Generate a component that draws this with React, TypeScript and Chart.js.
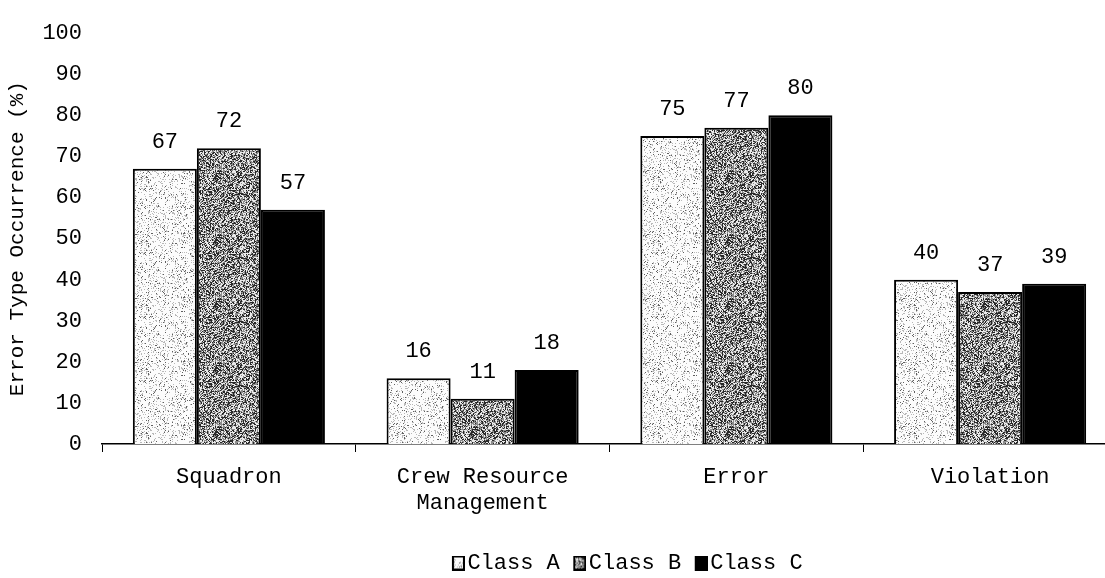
import React, { useEffect, useRef } from 'react';
import { Chart, registerables } from 'chart.js';

Chart.register(...registerables);

// Categories on the x axis (multi-line labels as arrays)
const categories: (string | string[])[] = ['Squadron', ['Crew Resource', 'Management'], 'Error', 'Violation'];
const seriesNames = ['Class A', 'Class B', 'Class C'];
const classA = [67, 16, 75, 40];
const classB = [72, 11, 77, 37];
const classC = [57, 18, 80, 39];
const yMin = 0;
const yMax = 100;
const yStep = 10;
const yTitle = 'Error Type Occurrence (%)';

const FONT = "'Liberation Mono', 'Courier New', monospace";

// Deterministic stipple texture: each pixel takes a grey level chosen from cumulative thresholds.
function stippleTile(size: number, seed: number, levels: [number, number][]): HTMLCanvasElement {
  const c = document.createElement('canvas');
  c.width = size;
  c.height = size;
  const ctx = c.getContext('2d')!;
  const img = ctx.createImageData(size, size);
  let s = seed >>> 0;
  const next = () => {
    s = (Math.imul(s, 1664525) + 1013904223) >>> 0;
    return s / 4294967296;
  };
  for (let i = 0; i < size * size; i++) {
    const r = next();
    let g = levels[levels.length - 1][1];
    for (const [t, v] of levels) {
      if (r < t) { g = v; break; }
    }
    img.data[i * 4] = g;
    img.data[i * 4 + 1] = g;
    img.data[i * 4 + 2] = g;
    img.data[i * 4 + 3] = 255;
  }
  ctx.putImageData(img, 0, 0);
  return c;
}

// Small legend swatch: patterned box with black frame, drawn on the right of a wider transparent image
function swatch(fill: CanvasPattern | string): HTMLCanvasElement {
  const c = document.createElement('canvas');
  c.width = 18;
  c.height = 15;
  const ctx = c.getContext('2d')!;
  ctx.fillStyle = fill as any;
  ctx.fillRect(5, 0, 13, 15);
  ctx.strokeStyle = '#000';
  ctx.lineWidth = 2;
  ctx.strokeRect(6, 1, 11, 13);
  return c;
}

const valueLabels = {
  id: 'valueLabels',
  afterDatasetsDraw(chart: any) {
    const ctx = chart.ctx;
    ctx.save();
    ctx.font = `22px ${FONT}`;
    ctx.fillStyle = '#000';
    ctx.textAlign = 'center';
    ctx.textBaseline = 'middle';
    chart.data.datasets.forEach((ds: any, i: number) => {
      chart.getDatasetMeta(i).data.forEach((el: any, j: number) => {
        ctx.fillText(String(ds.data[j]), el.x, el.y - 27);
      });
    });
    ctx.restore();
  },
};

export default function App() {
  const ref = useRef<HTMLCanvasElement>(null);

  useEffect(() => {
    const canvas = ref.current!;
    const ctx = canvas.getContext('2d')!;

    const tileA = stippleTile(64, 12345, [[0.05, 95], [0.2, 185], [1, 252]]);
    const tileB = stippleTile(64, 67890, [[0.33, 40], [0.66, 140], [1, 235]]);
    const patA = ctx.createPattern(tileA, 'repeat')!;
    const patB = ctx.createPattern(tileB, 'repeat')!;
    const fills: (CanvasPattern | string)[] = [patA, patB, '#000'];
    const swatches = fills.map(swatch);

    const series = [classA, classB, classC];

    const chart = new Chart(canvas, {
      type: 'bar',
      data: {
        labels: categories as any,
        datasets: series.map((d, i) => ({
          label: seriesNames[i],
          data: d,
          backgroundColor: fills[i] as any,
          borderColor: '#000',
          borderWidth: 2,
          borderSkipped: 'bottom',
          categoryPercentage: 0.757,
          barPercentage: 1.0,
        })),
      },
      options: {
        responsive: false,
        animation: false,
        layout: { padding: { top: 22, left: 0, right: 0, bottom: 0 } },
        plugins: {
          tooltip: { enabled: false },
          legend: {
            position: 'bottom',
            labels: {
              usePointStyle: true,
              boxWidth: 1,
              padding: 17,
              color: '#000',
              font: { family: FONT, size: 22 },
              generateLabels: () =>
                seriesNames.map((name, i) => ({
                  text: name,
                  pointStyle: swatches[i] as any,
                  fillStyle: '#000',
                  strokeStyle: '#000',
                  lineWidth: 0,
                  hidden: false,
                  datasetIndex: i,
                  fontColor: '#000',
                })),
            },
          },
        },
        scales: {
          x: {
            grid: {
              display: true,
              drawOnChartArea: false,
              drawTicks: true,
              tickLength: 8,
              color: '#000',
              lineWidth: 1,
            },
            border: { display: true, color: '#000', width: 1.5 },
            ticks: {
              color: '#000',
              font: { family: FONT, size: 22 },
              padding: 12,
              autoSkip: false,
              maxRotation: 0,
            },
            afterFit: (s: any) => {
              s.height = 91;
            },
          },
          y: {
            min: yMin,
            max: yMax,
            grid: { display: false, drawTicks: false },
            border: { display: false },
            ticks: {
              stepSize: yStep,
              color: '#000',
              font: { family: FONT, size: 22 },
              padding: 20,
            },
            title: {
              display: true,
              text: yTitle,
              color: '#000',
              font: { family: FONT, size: 21 },
              padding: { top: 5, bottom: 0 },
            },
            afterFit: (s: any) => {
              s.width = 102;
            },
          },
          // empty right-hand band that continues the plot frame beyond the visible area
          side: {
            type: 'linear',
            position: 'right',
            display: true,
            grid: { display: false, drawTicks: false },
            border: { display: false },
            ticks: { display: false },
            afterFit: (s: any) => {
              s.width = 141;
            },
          },
        },
      } as any,
      plugins: [valueLabels],
    });

    return () => chart.destroy();
  }, []);

  return (
    <div style={{ position: 'absolute', left: 0, top: 0, width: 1105, height: 578, overflow: 'hidden', background: '#fff' }}>
      <canvas ref={ref} width={1258} height={584} style={{ width: 1258, height: 584, display: 'block' }} />
    </div>
  );
}
